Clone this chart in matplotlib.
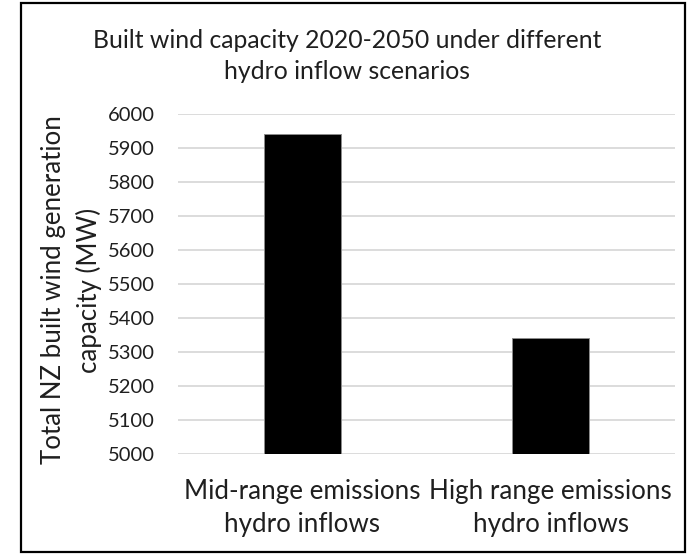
import matplotlib.pyplot as plt
from matplotlib.patches import Rectangle

plt.rcParams['font.family'] = ['Lato', 'DejaVu Sans']

# data
scenarios = ['Mid-range emissions\nhydro inflows', 'High range emissions\nhydro inflows']
wind_capacity = [5940, 5340]
y_ticks = list(range(5000, 6001, 100))

TXT = '#1f1f1f'

fig = plt.figure(figsize=(6.87, 5.55), dpi=100)
W, H = 687, 555
ax = fig.add_axes([178 / W, 1 - 454 / H, 497 / W, 340 / H])

x = range(len(scenarios))
ax.bar(x, wind_capacity, width=0.31, color='black', edgecolor='#8c8c8c',
       linewidth=0.7, zorder=3)

ax.set_xlim(-0.5, 1.5)
ax.set_ylim(5000, 6000)
ax.set_yticks(y_ticks)
ax.set_xticks(list(x))
ax.set_xticklabels(scenarios, fontsize=18.7, linespacing=1.38)
ax.tick_params(axis='y', length=0, pad=16.5, labelsize=14.5, labelcolor=TXT)
ax.tick_params(axis='x', length=0, pad=18, labelcolor=TXT)
ax.grid(axis='y', color='#d9d9d9', linewidth=1.3, zorder=0)
for s in ax.spines.values():
    s.set_visible(False)

fig.text(71.5 / W, 1 - 290 / H, 'Total NZ built wind generation\ncapacity (MW)',
         rotation=90, ha='center', va='center', multialignment='center',
         fontsize=18.6, color=TXT, linespacing=1.5)

fig.text(347 / W, 1 - 56 / H, 'Built wind capacity 2020-2050 under different\nhydro inflow scenarios',
         ha='center', va='center', fontsize=17.8, color=TXT, linespacing=1.45)

# chart frame
fig.patches.append(Rectangle((21 / W, 1 - 552 / H), 664 / W, 549 / H,
                             transform=fig.transFigure, fill=False,
                             edgecolor='black', linewidth=1.6))

fig.savefig('out.png', dpi=100)
